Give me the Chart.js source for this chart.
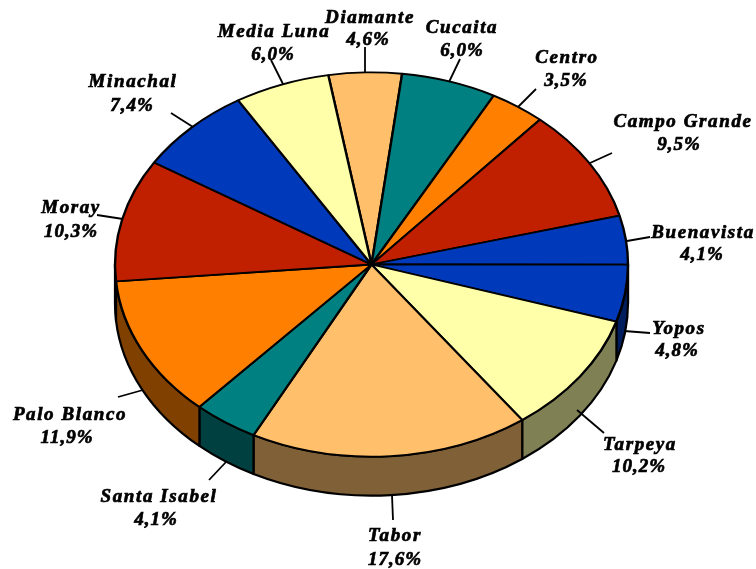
<!DOCTYPE html>
<html>
<head>
<meta charset="utf-8">
<style>html,body{margin:0;padding:0;background:#fff}canvas{display:block}</style>
<script src="https://cdn.jsdelivr.net/npm/chart.js@4"></script>
</head>
<body>
<canvas id="c" width="756" height="569"></canvas>
<script>
const categories = ["Diamante","Cucaita","Centro","Campo Grande","Buenavista","Yopos","Tarpeya","Tabor","Santa Isabel","Palo Blanco","Moray","Minachal","Media Luna"];
const shares = [4.6,6.0,3.5,9.5,4.1,4.8,10.2,17.6,4.1,11.9,10.3,7.4,6.0];
const shareLabels = ["4,6%","6,0%","3,5%","9,5%","4,1%","4,8%","10,2%","17,6%","4,1%","11,9%","10,3%","7,4%","6,0%"];
const sliceColors = ["#FFBF6B","#008080","#FF8000","#C02000","#0039BA","#0039BA","#FFFFAA","#FFBF6B","#008080","#FF8000","#C02000","#0039BA","#FFFFAA"];

// label layout: name centre x/y, value centre x/y, leader x1,y1,x2,y2
const labelLayout = [
 [370,18,368,40, 365,47,365,73],
 [462,28,462,51, 460,59,449,82],
 [567,58,566,81, 536,89,518,107],
 [683,122,679,145, 612,153,590,163],
 [703,233,702,255, 650,237,627,241],
 [679,329,677,351, 650,333,624,331],
 [640,445,639,467, 604,433,577,410],
 [395,536,395,560, 392,495,393,520],
 [159,497,156,520, 209,480,226,462],
 [70,415,67,438, 118,397,143,390],
 [71,208,71,232, 97,215,123,219],
 [133,82,132,106, 171,113,193,127],
 [274,32,273,55, 271,60,283,84]
];
const squash = 0.749, depth = 39;

function dark(hex){
  const n = parseInt(hex.slice(1),16);
  const h = v => Math.round(v/2).toString(16).padStart(2,'0');
  return '#'+h(n>>16&255)+h(n>>8&255)+h(n&255);
}

const pie3d = {
  id:'pie3d',
  beforeDatasetsDraw(chart){
    const ctx = chart.ctx, arcs = chart.getDatasetMeta(0).data;
    const a0 = arcs[0], cx = a0.x, cy = a0.y, r = a0.outerRadius, b = r*squash;
    const T = Math.PI*2;
    ctx.save();
    ctx.lineWidth = 2.2; ctx.strokeStyle = '#000'; ctx.lineJoin = 'round';
    arcs.forEach((arc,i)=>{
      let s = arc.startAngle, e = arc.endAngle;
      for (const k of [-1,0,1]) {
        const from = Math.max(s, k*T), to = Math.min(e, k*T+Math.PI);
        if (to <= from) continue;
        ctx.beginPath();
        ctx.ellipse(cx,cy,r,b,0,from,to,false);
        ctx.ellipse(cx,cy+depth,r,b,0,to,from,true);
        ctx.closePath();
        ctx.fillStyle = dark(sliceColors[i]);
        ctx.fill(); ctx.stroke();
      }
    });
    ctx.restore();
    ctx.save();
    ctx.translate(cx,cy); ctx.scale(1,squash); ctx.translate(-cx,-cy);
  },
  afterDatasetsDraw(chart){
    const ctx = chart.ctx;
    ctx.restore();
    ctx.save();
    ctx.strokeStyle='#000';
    ctx.fillStyle='#000';
    ctx.font='italic bold 19px "Liberation Serif"';
    ctx.textAlign='center'; ctx.textBaseline='middle';
    categories.forEach((name,i)=>{
      const L = labelLayout[i];
      ctx.lineWidth=1.8;
      ctx.beginPath(); ctx.moveTo(L[4],L[5]); ctx.lineTo(L[6],L[7]); ctx.stroke();
      ctx.lineWidth=0.7;
      ctx.letterSpacing='1.6px';
      ctx.fillText(name,L[0],L[1]); ctx.strokeText(name,L[0],L[1]);
      ctx.letterSpacing='1px';
      ctx.fillText(shareLabels[i],L[2],L[3]); ctx.strokeText(shareLabels[i],L[2],L[3]);
    });
    ctx.restore();
  }
};

new Chart(document.getElementById('c'),{
  type:'pie',
  data:{labels:categories,datasets:[{data:shares,backgroundColor:sliceColors,borderColor:'#000',borderWidth:2.4,borderAlign:'center'}]},
  options:{
    responsive:false,animation:false,
    rotation:-9.7,radius:256.5,
    layout:{padding:{top:7.5,bottom:47.5,left:114.5,right:127.5}},
    plugins:{legend:{display:false},tooltip:{enabled:false}}
  },
  plugins:[pie3d]
});
</script>
</body>
</html>
